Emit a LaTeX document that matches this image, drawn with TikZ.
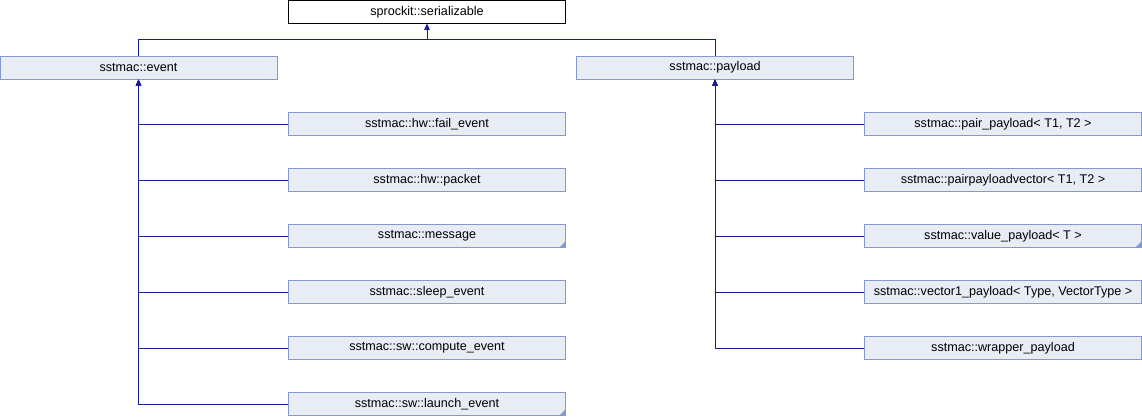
\documentclass[tikz,border=0pt]{standalone}
\usepackage{fontspec}
\setmainfont{Liberation Sans}
\usetikzlibrary{arrows.meta}
\definecolor{boxfill}{HTML}{E8ECF5}
\definecolor{boxbord}{HTML}{8499D0}
\definecolor{conncol}{HTML}{1A1A9C}
\tikzset{
  cls/.style={draw=boxbord, fill=boxfill, line width=1pt, minimum width=277pt, minimum height=22.6pt, inner sep=0pt, font=\fontsize{12.6}{14}\selectfont, text=black},
  rootcls/.style={cls, draw=black, fill=white},
  conn/.style={draw=conncol, line width=1pt, -{Triangle[width=5pt,length=6pt]}},
  more/.style={fill=boxbord}
}
\begin{document}
\begin{tikzpicture}[x=1pt,y=-1pt]
\useasboundingbox (0,0) rectangle (1142,416);
\node[rootcls] (ser) at (427,12) {sprockit::serializable};
\node[cls] (event) at (138.5,67.7) {sstmac::event};
\node[cls] (payload) at (715,67.7) {sstmac::payload};
\node[cls] (fail) at (427,124) {sstmac::hw::fail\_event};
\node[cls] (packet) at (427,180) {sstmac::hw::packet};
\node[cls] (message) at (427,236) {sstmac::message};
\node[cls] (sleep) at (427,292) {sstmac::sleep\_event};
\node[cls] (compute) at (427,348) {sstmac::sw::compute\_event};
\node[cls] (launch) at (427,404) {sstmac::sw::launch\_event};
\node[cls] (pair) at (1003,124) {sstmac::pair\_payload< T1, T2 >};
\node[cls] (ppv) at (1003,180) {sstmac::pairpayloadvector< T1, T2 >};
\node[cls] (value) at (1003,236) {sstmac::value\_payload< T >};
\node[cls] (vec) at (1003,292) {sstmac::vector1\_payload< Type, VectorType >};
\node[cls] (wrap) at (1003,348) {sstmac::wrapper\_payload};
\foreach \n in {message,launch,value}{
  \fill[more] ([xshift=-0.5pt,yshift=0.5pt]\n.south east) -- ++(-6,0) -- ++(6,-6) -- cycle;
}
\draw[conn] (event.north) -- ++(0,-16.5) -| (ser.south);
\draw[conn] (payload.north) -- ++(0,-16.5) -| (ser.south);
\foreach \n in {fail,packet,message,sleep,compute,launch}{
  \draw[conn] (\n.west) -| (event.south);
}
\foreach \n in {pair,ppv,value,vec,wrap}{
  \draw[conn] (\n.west) -| (payload.south);
}
\end{tikzpicture}
\end{document}
